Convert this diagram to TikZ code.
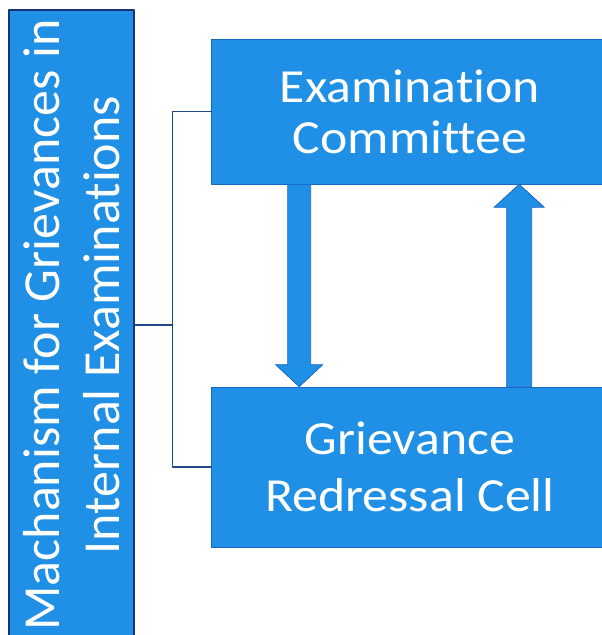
\documentclass[tikz,border=0pt]{standalone}
\usepackage{fontspec}
\setmainfont[RawFeature={-liga;-clig;-calt;-dlig}]{Carlito}
\newfontfamily\boxfont[FakeStretch=1.09,RawFeature={-liga;-clig;-calt;-dlig}]{Carlito}
\usetikzlibrary{calc}
\definecolor{boxblue}{RGB}{32,144,230}
\definecolor{edgeblue}{RGB}{22,104,196}
\definecolor{navy}{RGB}{24,52,118}
\definecolor{linkblue}{RGB}{34,72,140}
\tikzset{
  sidebar/.style={draw=navy,line width=1.5pt,fill=boxblue,text=white,rotate=90,
    minimum width=630pt,minimum height=125pt,align=center,inner sep=0pt,
    font=\fontsize{52}{60}\selectfont},
  unitbox/.style={draw=edgeblue,line width=0.6pt,fill=boxblue,text=white,
    minimum width=398pt,align=center,inner sep=0pt},
  bracket/.style={draw=linkblue,line width=1.3pt},
  fatarrow/.style={draw=edgeblue,line width=0.8pt,fill=boxblue,line join=miter}
}
\begin{document}
\begin{tikzpicture}[line cap=round,line join=round,x=1pt,y=1pt]
	\path[use as bounding box,fill=white] (0,0) rectangle (602,635);
	% left bar
	\node[sidebar] (bar) at (71.5,310) {Machanism for Grievances in\\Internal Examinations};
	% the two units
	\node[unitbox,minimum height=145pt,font=\boxfont\fontsize{47.5}{51}\selectfont] (ec) at (410,523.5) {Examination\\Committee};
	\node[unitbox,minimum height=160pt,font=\boxfont\fontsize{47.5}{57}\selectfont] (grc) at (410,168) {Grievance\\Redressal Cell};
	% bracket
	\draw[bracket] (bar.south) -- ++(38,0) coordinate (knee);
	\draw[bracket] (ec.west) -| (knee) |- (grc.west);
	% arrows between the units
	\coordinate (d0) at ($(ec.south west)+(88.5,0)$);
	\coordinate (d1) at ($(grc.north west)+(88.5,0)$);
	\coordinate (u0) at ($(grc.north west)+(308.5,0)$);
	\coordinate (u1) at ($(ec.south west)+(308.5,0)$);
	\draw[fatarrow] ($(d0)+(-11.5,0)$) -- ($(d1)+(-11.5,22)$) -- ($(d1)+(-23.5,22)$) -- (d1)
		-- ($(d1)+(23.5,22)$) -- ($(d1)+(11.5,22)$) -- ($(d0)+(11.5,0)$) -- cycle;
	\draw[fatarrow] ($(u0)+(-12.5,0)$) -- ($(u1)+(-12.5,-23)$) -- ($(u1)+(-25,-23)$) -- (u1)
		-- ($(u1)+(25,-23)$) -- ($(u1)+(12.5,-23)$) -- ($(u0)+(12.5,0)$) -- cycle;
\end{tikzpicture}
\end{document}
